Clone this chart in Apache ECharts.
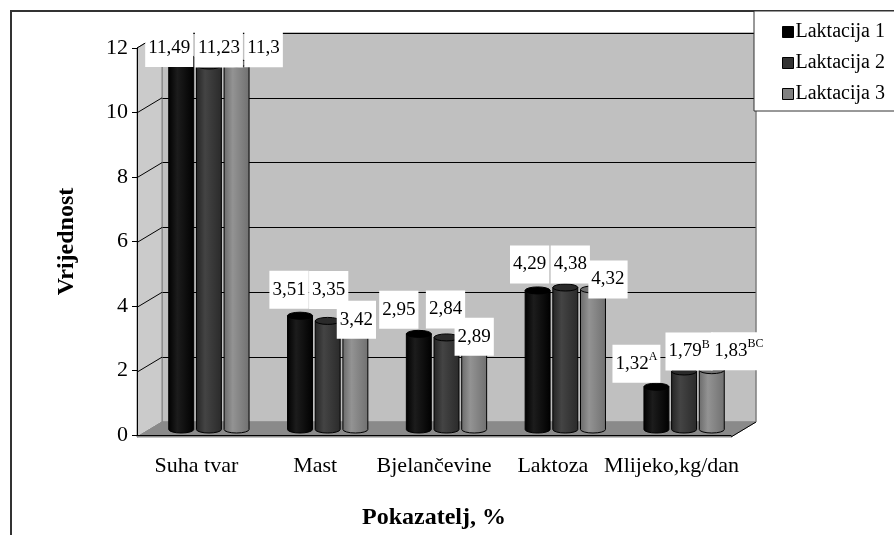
<!DOCTYPE html>
<html>
<head>
<meta charset="utf-8">
<script src="https://cdn.jsdelivr.net/npm/echarts@6/dist/echarts.min.js"></script>
<style>
    html, body { margin: 0; padding: 0; background: #fff; }
    #chart { width: 894px; height: 535px; }
</style>
</head>
<body>
<div id="chart"></div>
<script>
    // podaci
    const categories = ['Suha tvar', 'Mast', 'Bjelančevine', 'Laktoza', 'Mlijeko,kg/dan'];
    const seriesNames = ['Laktacija 1', 'Laktacija 2', 'Laktacija 3'];
    const laktacija1 = [11.49, 3.51, 2.95, 4.29, 1.32];
    const laktacija2 = [11.23, 3.35, 2.84, 4.38, 1.79];
    const laktacija3 = [11.3, 3.42, 2.89, 4.32, 1.83];
    const sup1 = ['', '', '', '', 'A'];
    const sup2 = ['', '', '', '', 'B'];
    const sup3 = ['', '', '', '', 'BC'];
    const yMin = 0, yMax = 12, yStep = 2;

    const FONT = "'Liberation Serif', 'Times New Roman', serif";

    // raspored (3D efekt: prednja os, sredina za stupce, straznji zid)
    const front = { left: 137, top: 48, width: 594, height: 389 };
    const depth = { dx: 25, dy: -15 };
    function shifted(k) {
        return { left: front.left + depth.dx * k, top: front.top + depth.dy * k, width: front.width, height: front.height };
    }
    const back = shifted(1);
    const mid = shifted(0.5);

    // pomak oznaka (rucno postavljene u originalu)
    const nudge = [
        [[-12, -9], [-11, -26], [-20, -24], [-8, -26], [-20, -23]],
        [[10, -17], [1, -31], [-1, -28], [5, -23], [5, -20]],
        [[27, -15], [1, 1], [0, 1], [15, -10], [27, -19]]
    ];

    const bodyColors = [
        ['#000000', '#1c1c1c', '#000000'],
        ['#242424', '#444444', '#2a2a2a'],
        ['#6a6a6a', '#939393', '#707070']
    ];
    const flatColors = ['#000000', '#333333', '#808080'];

    const values = [laktacija1, laktacija2, laktacija3];
    const sups = [sup1, sup2, sup3];

    function fmt(v) {
        return String(v).replace('.', ',');
    }

    function renderCylinder(params, api) {
        const s = params.seriesIndex;
        const i = params.dataIndex;
        const cat = api.value(0);
        const val = api.value(1);
        const top = api.coord([cat, val]);
        const base = api.coord([cat, 0]);
        const band = api.size([1, 0])[0];
        const w = band * 0.21;
        const gap = band * 0.023;
        const cx = top[0] + (s - 1) * (w + gap);
        const r = w / 2;
        const ry = 3.5;
        const l = cx - r, rr = cx + r;
        const grad = new echarts.graphic.LinearGradient(0, 0, 1, 0, [
            { offset: 0, color: bodyColors[s][0] },
            { offset: 0.35, color: bodyColors[s][1] },
            { offset: 1, color: bodyColors[s][2] }
        ]);
        const body = 'M' + l + ' ' + top[1] + ' L' + l + ' ' + base[1] +
            ' A' + r + ' ' + ry + ' 0 0 0 ' + rr + ' ' + base[1] +
            ' L' + rr + ' ' + top[1] + ' Z';
        const cap = 'M' + l + ' ' + top[1] +
            ' A' + r + ' ' + ry + ' 0 1 0 ' + rr + ' ' + top[1] +
            ' A' + r + ' ' + ry + ' 0 1 0 ' + l + ' ' + top[1] + ' Z';
        const sup = sups[s][i];
        const txt = sup ? '{m|' + fmt(val) + '}{s|' + sup + '}' : '{m|' + fmt(val) + '}';
        return {
            type: 'group',
            children: [
                { type: 'path', shape: { pathData: body }, style: { fill: grad, stroke: '#000', lineWidth: 1 } },
                { type: 'path', shape: { pathData: cap }, style: { fill: bodyColors[s][2], stroke: '#000', lineWidth: 1 } },
                {
                    type: 'text',
                    z2: 100,
                    x: cx + nudge[s][i][0],
                    y: top[1] + nudge[s][i][1],
                    style: {
                        text: txt,
                        align: 'center',
                        verticalAlign: 'middle',
                        backgroundColor: '#fff',
                        padding: [6, 3, 6, 3],
                        rich: {
                            m: { fontFamily: FONT, fontSize: 19, fill: '#000', lineHeight: 26 },
                            s: { fontFamily: FONT, fontSize: 12, fill: '#000', verticalAlign: 'top', lineHeight: 11 }
                        }
                    }
                }
            ]
        };
    }

    // zidovi i pod
    function yPix(g, v) {
        return g.top + g.height * (1 - (v - yMin) / (yMax - yMin));
    }
    const wallLines = [];
    for (let v = yMin; v <= yMax; v += yStep) {
        wallLines.push({
            type: 'line', z: 1,
            shape: { x1: front.left, y1: yPix(front, v), x2: back.left, y2: yPix(back, v) },
            style: { stroke: '#000', lineWidth: 1 }
        });
    }
    const fx0 = front.left, fx1 = front.left + front.width, fy = front.top + front.height;
    const bx0 = back.left, bx1 = back.left + back.width, by = back.top + back.height;

    const graphic = [
        { type: 'rect', z: -10, shape: { x: 11, y: 11, width: 1000, height: 1000 }, style: { fill: '#fff', stroke: '#333', lineWidth: 2 } },
        { type: 'polygon', z: 1, shape: { points: [[fx0, fy], [fx0, front.top], [bx0, back.top], [bx0, by]] }, style: { fill: '#cbcbcb', stroke: '#808080', lineWidth: 1 } },
        { type: 'polygon', z: 1, shape: { points: [[fx0, fy], [fx1, fy], [bx1, by], [bx0, by]] }, style: { fill: '#8a8a8a', stroke: '#8a8a8a', lineWidth: 1 } },
        { type: 'line', z: 1, shape: { x1: fx1, y1: fy, x2: bx1, y2: by }, style: { stroke: '#000', lineWidth: 1 } },
        { type: 'line', z: 1, shape: { x1: bx1, y1: back.top, x2: bx1, y2: by }, style: { stroke: '#808080', lineWidth: 1 } },
        { type: 'rect', z: 5, shape: { x: 754, y: 11, width: 200, height: 100 }, style: { fill: '#fff', stroke: '#333', lineWidth: 1 } }
    ].concat(wallLines.slice(1));

    const option = {
        backgroundColor: '#fff',
        animation: false,
        textStyle: { fontFamily: FONT },
        graphic: graphic,
        legend: {
            z: 10,
            data: seriesNames,
            orient: 'vertical',
            left: 777,
            top: 17,
            icon: 'rect',
            itemWidth: 11,
            itemHeight: 11,
            itemGap: 11,
            itemStyle: { borderColor: '#000', borderWidth: 1 },
            textStyle: { fontFamily: FONT, fontSize: 20, color: '#000', padding: [0, 0, 0, -3] }
        },
        grid: [
            Object.assign({ show: true, backgroundColor: '#c0c0c0', borderColor: '#7a7a7a', borderWidth: 1 }, back),
            Object.assign({}, front),
            Object.assign({}, mid)
        ],
        xAxis: [
            { gridIndex: 0, type: 'category', data: categories, show: false },
            {
                gridIndex: 1, type: 'category', data: categories, z: 6,
                name: 'Pokazatelj, %', nameLocation: 'middle', nameGap: 71,
                nameTextStyle: { fontFamily: FONT, fontSize: 24, fontWeight: 'bold', color: '#000' },
                axisLine: { lineStyle: { color: '#000', width: 1 } },
                axisTick: { length: 7, lineStyle: { color: '#000' } },
                axisLabel: { interval: 0, fontFamily: FONT, fontSize: 22, color: '#000', margin: 20 }
            },
            { gridIndex: 2, type: 'category', data: categories, show: false }
        ],
        yAxis: [
            {
                gridIndex: 0, type: 'value', min: yMin, max: yMax, interval: yStep,
                axisLine: { show: false }, axisTick: { show: false }, axisLabel: { show: false },
                splitLine: { lineStyle: { color: '#000', width: 1 } }
            },
            {
                gridIndex: 1, type: 'value', min: yMin, max: yMax, interval: yStep, z: 6,
                name: 'Vrijednost', nameLocation: 'middle', nameGap: 58, nameRotate: 90,
                nameTextStyle: { fontFamily: FONT, fontSize: 24, fontWeight: 'bold', color: '#000' },
                axisLine: { show: true, lineStyle: { color: '#000', width: 1 } },
                axisTick: { show: true, length: 5, lineStyle: { color: '#000' } },
                axisLabel: { fontFamily: FONT, fontSize: 22, color: '#000', margin: 9 },
                splitLine: { show: false }
            },
            { gridIndex: 2, type: 'value', min: yMin, max: yMax, interval: yStep, show: false, splitLine: { show: false } }
        ],
        series: seriesNames.map(function (name, s) {
            return {
                name: name,
                type: 'custom',
                xAxisIndex: 2,
                yAxisIndex: 2,
                z: 4,
                itemStyle: { color: flatColors[s] },
                renderItem: renderCylinder,
                encode: { x: 0, y: 1 },
                data: values[s].map(function (v, i) { return [i, v]; })
            };
        })
    };

    const chart = echarts.init(document.getElementById('chart'));
    chart.setOption(option);
</script>
</body>
</html>
